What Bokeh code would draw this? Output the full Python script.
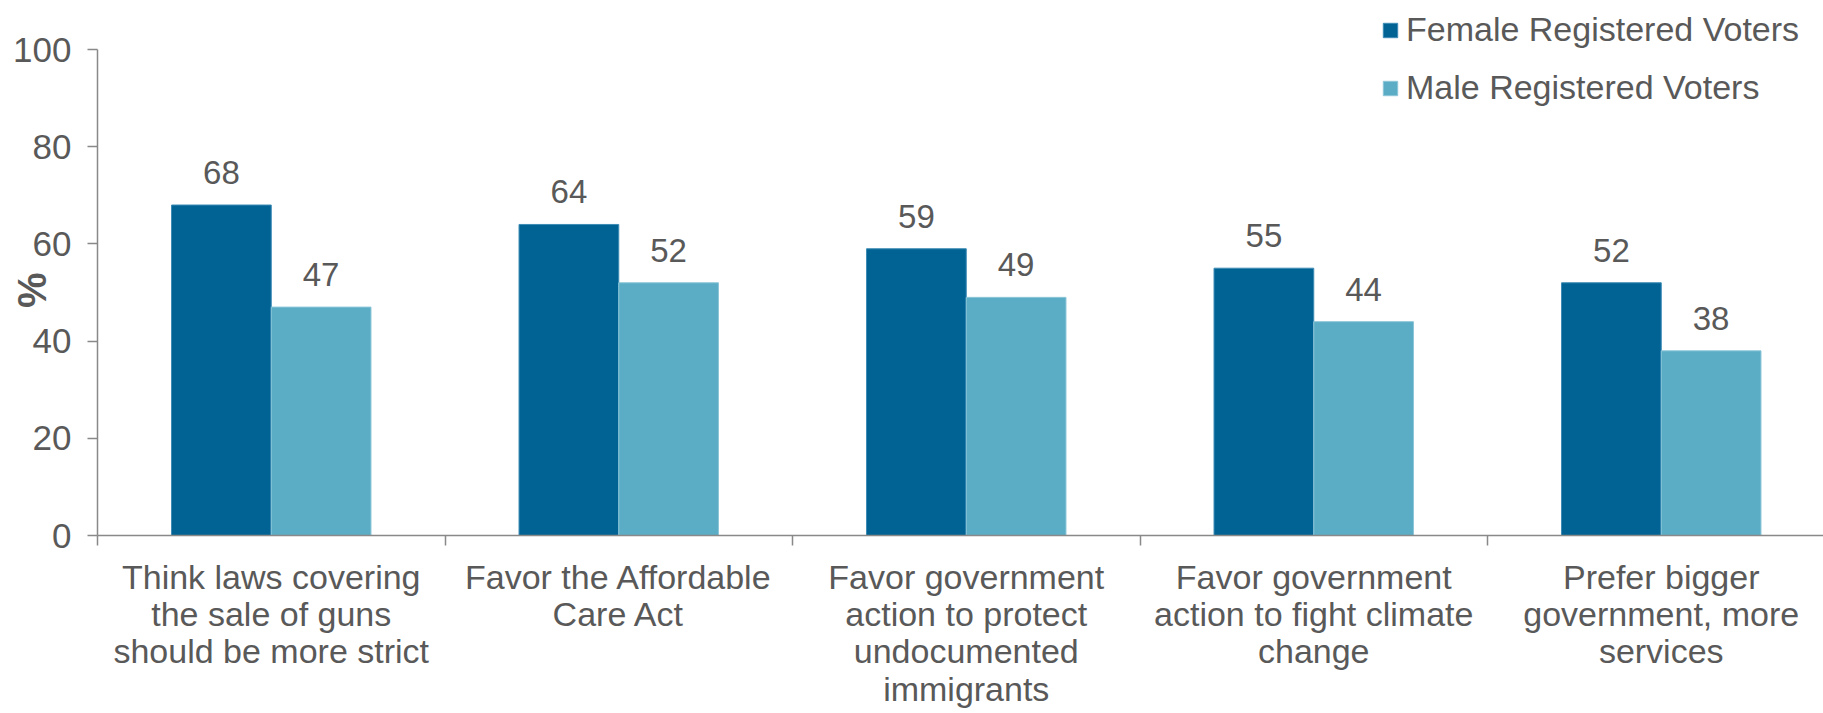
from bokeh.plotting import figure
from bokeh.models import (Range1d, FixedTicker, ColumnDataSource, Legend, LegendItem,
                          LinearAxis)
from bokeh.transform import dodge
from bokeh.embed import file_html
from bokeh.resources import INLINE
from bokeh.core.properties import value

categories = [
    "Think laws covering\nthe sale of guns\nshould be more strict",
    "Favor the Affordable\nCare Act",
    "Favor government\naction to protect\nundocumented\nimmigrants",
    "Favor government\naction to fight climate\nchange",
    "Prefer bigger\ngovernment, more\nservices",
]
female = [68, 64, 59, 55, 52]
male = [47, 52, 49, 44, 38]
series_names = ["Female Registered Voters", "Male Registered Voters"]
y_ticks = [0, 20, 40, 60, 80, 100]
y_title = "%"

FONT = "Liberation Sans"
GRAY = "#595959"
AXIS = "#898989"
C_F = "#006394"
C_M = "#5BACC5"

W, H = 1823, 713
LEFT, BOTTOM = 97, 178
Y_TOP_PX = 49            # pixel row of the 100 tick
CAT_PX = 347.5
x_end = (W - LEFT) / CAT_PX
frame_h = H - BOTTOM
y_end = 100.0 * frame_h / (frame_h - Y_TOP_PX)

centers = [i + 0.5 for i in range(len(categories))]
src = ColumnDataSource(dict(
    x=centers,
    female=female,
    male=male,
    female_lbl=[str(v) for v in female],
    male_lbl=[str(v) for v in male],
))

p = figure(width=W, height=H, output_backend="svg", toolbar_location=None,
           x_range=Range1d(0, x_end), y_range=Range1d(0, y_end),
           min_border_left=LEFT, min_border_top=0, min_border_bottom=BOTTOM,
           min_border_right=0, x_axis_type=None, y_axis_type=None)
p.outline_line_color = None
p.grid.visible = False
p.background_fill_color = "white"
p.border_fill_color = "white"

BW = 0.287
rf = p.vbar(x=dodge("x", -BW / 2, range=p.x_range), top="female", width=BW, bottom=0,
            source=src, fill_color=C_F, line_color="#3d8bb5", line_width=1)
rm = p.vbar(x=dodge("x", BW / 2, range=p.x_range), top="male", width=BW, bottom=0,
            source=src, fill_color=C_M, line_color="#8cc6d8", line_width=1)

p.text(x=dodge("x", -BW / 2, range=p.x_range), y="female", text="female_lbl", source=src,
       text_align="center", text_baseline="bottom", y_offset=-21,
       text_font=value(FONT), text_font_size="33px", text_color=GRAY)
p.text(x=dodge("x", BW / 2, range=p.x_range), y="male", text="male_lbl", source=src,
       text_align="center", text_baseline="bottom", y_offset=-21,
       text_font=value(FONT), text_font_size="33px", text_color=GRAY)

# y axis
yax = LinearAxis(ticker=FixedTicker(ticks=y_ticks, minor_ticks=[]), bounds=(0, 100))
yax.major_label_text_font = FONT
yax.major_label_text_font_size = "35px"
yax.major_label_text_color = GRAY
yax.major_label_standoff = 16
yax.axis_line_color = AXIS
yax.axis_line_width = 1.5
yax.major_tick_line_color = AXIS
yax.major_tick_line_width = 1.5
yax.major_tick_out = 10
yax.major_tick_in = 0
# non-breaking spaces after the "%" move it down to the middle of the 0-100 axis
yax.axis_label = y_title + "\u00a0" * 4
yax.axis_label_text_font = FONT
yax.axis_label_text_font_size = "40px"
yax.axis_label_text_font_style = "bold"
yax.axis_label_text_color = GRAY
yax.axis_label_standoff = -44
p.add_layout(yax, "left")

# x axis
xax = LinearAxis(ticker=FixedTicker(ticks=centers, minor_ticks=list(range(len(categories) + 1))))
xax.major_label_overrides = {c: lab for c, lab in zip(centers, categories)}
xax.major_label_text_font = FONT
xax.major_label_text_font_size = "34px"
xax.major_label_text_line_height = 0.985
xax.major_label_text_color = GRAY
xax.major_label_text_align = "center"
xax.major_label_standoff = 12
xax.major_tick_line_color = None
xax.major_tick_out = 0
xax.major_tick_in = 0
xax.minor_tick_line_color = AXIS
xax.minor_tick_line_width = 1.5
xax.minor_tick_out = 10
xax.minor_tick_in = 0
xax.axis_line_color = AXIS
xax.axis_line_width = 1.5
p.add_layout(xax, "below")

legend = Legend(items=[LegendItem(label=series_names[0], renderers=[rf]),
                       LegendItem(label=series_names[1], renderers=[rm])],
                location=(1284, 428), orientation="vertical",
                label_text_font=FONT, label_text_font_size="34px",
                label_text_color=GRAY, glyph_width=18, glyph_height=18,
                label_standoff=7, spacing=19, padding=0, margin=0,
                border_line_color=None, background_fill_alpha=0)
p.add_layout(legend, "center")

open("out.html", "w").write(file_html(p, INLINE))
